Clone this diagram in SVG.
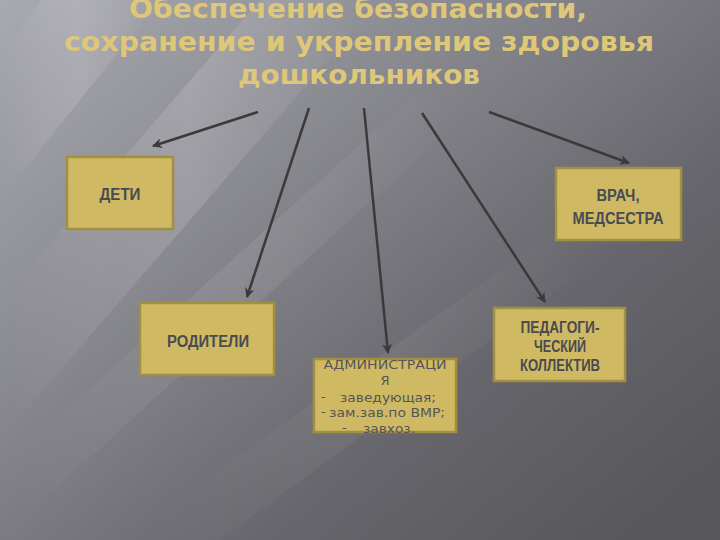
<svg xmlns="http://www.w3.org/2000/svg" width="720" height="540" viewBox="0 0 720 540">
<defs>
<linearGradient id="bg" x1="0" y1="0" x2="1" y2="0.9">
<stop offset="0" stop-color="#a9a9b1"/>
<stop offset="0.35" stop-color="#8a8a91"/>
<stop offset="0.7" stop-color="#66666c"/>
<stop offset="1" stop-color="#56565b"/>
</linearGradient>
<linearGradient id="streak" x1="0" y1="0" x2="1" y2="0">
<stop offset="0" stop-color="#ffffff" stop-opacity="0"/>
<stop offset="0.5" stop-color="#ffffff" stop-opacity="0.16"/>
<stop offset="1" stop-color="#ffffff" stop-opacity="0"/>
</linearGradient>
<marker id="ah" viewBox="0 0 10 10" refX="9" refY="5" markerWidth="4" markerHeight="4" orient="auto" markerUnits="strokeWidth">
<path d="M0,0 L10,5 L0,10 L3,5 Z" fill="#3a3a3c"/>
</marker>
</defs>
<style>
.box{fill:#cfba63;stroke:#a38f40;stroke-width:2.5}
.lbl{font-family:"Liberation Sans","DejaVu Sans",sans-serif;font-weight:bold;font-size:16px;fill:#4a4a52;text-anchor:middle}
.adm{font-family:"DejaVu Sans","Liberation Sans",sans-serif;font-size:13px;fill:#55555a}
.title{font-family:"DejaVu Sans","Liberation Sans",sans-serif;font-weight:bold;font-size:26px;fill:#dfc779;text-anchor:middle}
.conn{stroke:#3a3a3c;stroke-width:2.5;fill:none;marker-end:url(#ah)}
</style>
<rect width="720" height="540" fill="url(#bg)"/>
<g opacity="0.9">
<polygon points="0,60 40,0 160,0 0,200" fill="url(#streak)"/>
<polygon points="0,300 260,0 380,0 0,440" fill="url(#streak)"/>
<polygon points="0,470 420,90 470,110 0,540" fill="url(#streak)" opacity="0.6"/>
<polygon points="120,540 600,200 640,230 220,540" fill="url(#streak)" opacity="0.4"/>
</g>
<g id="title" xml:space="preserve">
<text class="title" x="358" y="18" textLength="458" lengthAdjust="spacingAndGlyphs">Обеспечение  безопасности,</text>
<text class="title" x="359" y="51" textLength="590" lengthAdjust="spacingAndGlyphs">сохранение и  укрепление здоровья</text>
<text class="title" x="359" y="84" textLength="242" lengthAdjust="spacingAndGlyphs">дошкольников</text>
</g>
<g id="connectors">
<line class="conn" x1="258" y1="112" x2="153" y2="146"/>
<line class="conn" x1="309" y1="108" x2="247" y2="297"/>
<line class="conn" x1="364" y1="108" x2="388" y2="353"/>
<line class="conn" x1="422" y1="113" x2="545" y2="302"/>
<line class="conn" x1="489" y1="112" x2="629" y2="163"/>
</g>
<g id="deti">
<rect class="box" x="67" y="157" width="106" height="72"/>
<text class="lbl" x="120" y="200" textLength="41" lengthAdjust="spacingAndGlyphs">ДЕТИ</text>
</g>
<g id="vrach">
<rect class="box" x="556" y="168" width="125" height="72"/>
<text class="lbl" x="618" y="201" textLength="43" lengthAdjust="spacingAndGlyphs">ВРАЧ,</text>
<text class="lbl" x="618" y="224" textLength="91" lengthAdjust="spacingAndGlyphs">МЕДСЕСТРА</text>
</g>
<g id="roditeli">
<rect class="box" x="140" y="303" width="134" height="72"/>
<text class="lbl" x="208" y="347" textLength="82" lengthAdjust="spacingAndGlyphs">РОДИТЕЛИ</text>
</g>
<g id="admin">
<rect class="box" x="314" y="359" width="142" height="73"/>
<text class="adm" x="385" y="369" text-anchor="middle" textLength="123" lengthAdjust="spacingAndGlyphs">АДМИНИСТРАЦИ</text>
<text class="adm" x="385" y="385" text-anchor="middle">Я</text>
<text class="adm" x="321" y="401">-</text>
<text class="adm" x="340" y="402" textLength="96" lengthAdjust="spacingAndGlyphs">заведующая;</text>
<text class="adm" x="321" y="416">-</text>
<text class="adm" x="329" y="417" textLength="116" lengthAdjust="spacingAndGlyphs">зам.зав.по ВМР;</text>
<text class="adm" x="342" y="432">-</text>
<text class="adm" x="363" y="433" textLength="52" lengthAdjust="spacingAndGlyphs">завхоз.</text>
</g>
<g id="pedagogi">
<rect class="box" x="494" y="308" width="131" height="73"/>
<text class="lbl" x="560" y="333" textLength="79" lengthAdjust="spacingAndGlyphs">ПЕДАГОГИ-</text>
<text class="lbl" x="560" y="352" textLength="52" lengthAdjust="spacingAndGlyphs">ЧЕСКИЙ</text>
<text class="lbl" x="560" y="371" textLength="80" lengthAdjust="spacingAndGlyphs">КОЛЛЕКТИВ</text>
</g>
</svg>
